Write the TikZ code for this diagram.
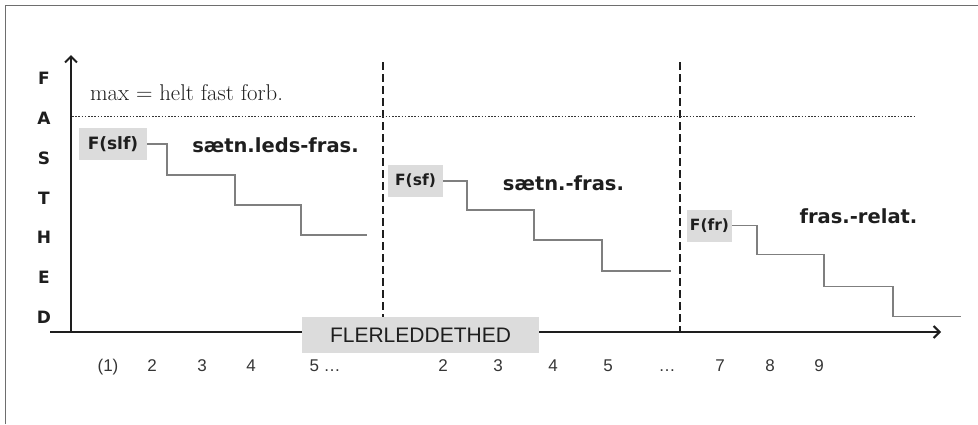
\documentclass[tikz,border=0pt]{standalone}
\usepackage{fontspec}
\usepackage{xcolor}
\setsansfont{Liberation Sans}
\newfontfamily\widesans{DejaVu Sans}
\usetikzlibrary{arrows.meta}
\definecolor{boxgray}{HTML}{DCDCDC}
\definecolor{stepgray}{HTML}{7F7F7F}
\definecolor{inkdark}{HTML}{1E1E1E}
\definecolor{framegray}{HTML}{6E6E6E}
\tikzstyle{letter}=[font=\widesans\bfseries\fontsize{17}{17}\selectfont,text=inkdark]
\tikzstyle{fbox}=[rectangle,fill=boxgray,minimum height=32pt,inner xsep=2pt,text centered,font=\widesans\bfseries\fontsize{15.5}{16}\selectfont,text=inkdark]
\tikzstyle{phrase}=[anchor=base,font=\widesans\bfseries\fontsize{19.5}{20}\selectfont,text=inkdark]
\tikzstyle{tick}=[anchor=base,font=\sffamily\fontsize{17}{17}\selectfont,text=inkdark!90]
\tikzstyle{steps}=[draw=stepgray,line width=1.5pt]
\tikzstyle{axis}=[line width=2pt,draw=inkdark,-{Straight Barb[length=6pt,width=12pt]}]
\tikzstyle{border}=[line width=1.8pt,dash pattern=on 7.5pt off 4.5pt,draw=inkdark]

\begin{document}
\begin{tikzpicture}[x=1pt,y=-1pt,node distance=39.8pt]
            \useasboundingbox (0,0) rectangle (978,424);
            \draw [framegray,line width=1pt] (5.5,424) -- (5.5,5.5) -- (978,5.5);
            % vertical word
            \node (F) [letter] at (44,78.5) {F};
            \node (A) [letter,below of=F] {A};
            \node (S) [letter,below of=A] {S};
            \node (T) [letter,below of=S] {T};
            \node (H) [letter,below of=T] {H};
            \node (E) [letter,below of=H] {E};
            \node (D) [letter,below of=E] {D};
            % axes and limits
            \coordinate (origin) at (71,332);
            \coordinate (ytop) at (71,55);
            \coordinate (xstart) at (50,332);
            \coordinate (xend) at (941,332);
            \coordinate (maxleft) at (72,116.5);
            \coordinate (maxright) at (915,116.5);
            \coordinate (cut1top) at (383,62);
            \coordinate (cut1bot) at (383,332);
            \coordinate (cut2top) at (680,62);
            \coordinate (cut2bot) at (680,332);
            \draw [border] (cut1top) -- (cut1bot);
            \draw [border] (cut2top) -- (cut2bot);
            \draw [axis] (origin) -- (ytop);
            \draw [axis] (xstart) -- (xend);
            \draw [inkdark!90,line width=1.8pt,dash pattern=on 1.5pt off 1.7pt] (maxleft) -- (maxright);
            \node (max) [anchor=base west,font=\fontsize{22.8}{23}\selectfont,text=inkdark] at (86.5,100.5) {max = helt fast forb.};
            % three groups
            \node (slf)[fbox,minimum width=68pt,font=\widesans\bfseries\fontsize{17}{17}\selectfont] at (113,144) {F(slf)};
            \node (sf)[fbox,minimum width=55pt] at (415.5,181) {F(sf)};
            \node (fr)[fbox,minimum width=45pt] at (709.5,225.5) {F(fr)};
            \node (slftitle)[phrase] at (275.5,152.3) {sætn.leds-fras.};
            \node (sftitle)[phrase] at (563.5,190.7) {sætn.-fras.};
            \node (frtitle)[phrase] at (858.5,223.3) {fras.-relat.};
            \draw [steps] (slf.east) -- ++(20,0) -- ++(0,31) -- ++(68,0) -- ++(0,30) -- ++(66,0) -- ++(0,30) -- ++(66,0);
            \draw [steps] (sf.east) -- ++(24,0) -- ++(0,29) -- ++(67,0) -- ++(0,30) -- ++(68,0) -- ++(0,31) -- ++(69,0);
            \draw [steps] (fr.east) -- ++(25,0) -- ++(0,29) -- ++(67,0) -- ++(0,32) -- ++(69,0) -- ++(0,30) -- ++(68,0);
            % x axis label and numbers
            \node (flerled)[rectangle,fill=boxgray,minimum width=237pt,minimum height=36pt,font=\sffamily\fontsize{21}{21}\selectfont,text=inkdark] at (420.5,335) {FLERLEDDETHED};
            \node (n1)[tick] at (108,371.5) {(1)};
            \node (n2)[tick] at (152,371.5) {2};
            \node (n3)[tick] at (202,371.5) {3};
            \node (n4)[tick] at (251,371.5) {4};
            \node (n5)[tick,anchor=base west] at (306,371.5) {5 …};
            \node (m2)[tick] at (443,371.5) {2};
            \node (m3)[tick] at (498,371.5) {3};
            \node (m4)[tick] at (553,371.5) {4};
            \node (m5)[tick] at (608,371.5) {5};
            \node (mdots)[tick] at (667,371.5) {…};
            \node (k7)[tick] at (720,371.5) {7};
            \node (k8)[tick] at (770,371.5) {8};
            \node (k9)[tick] at (819,371.5) {9};
        \end{tikzpicture}
\end{document}
